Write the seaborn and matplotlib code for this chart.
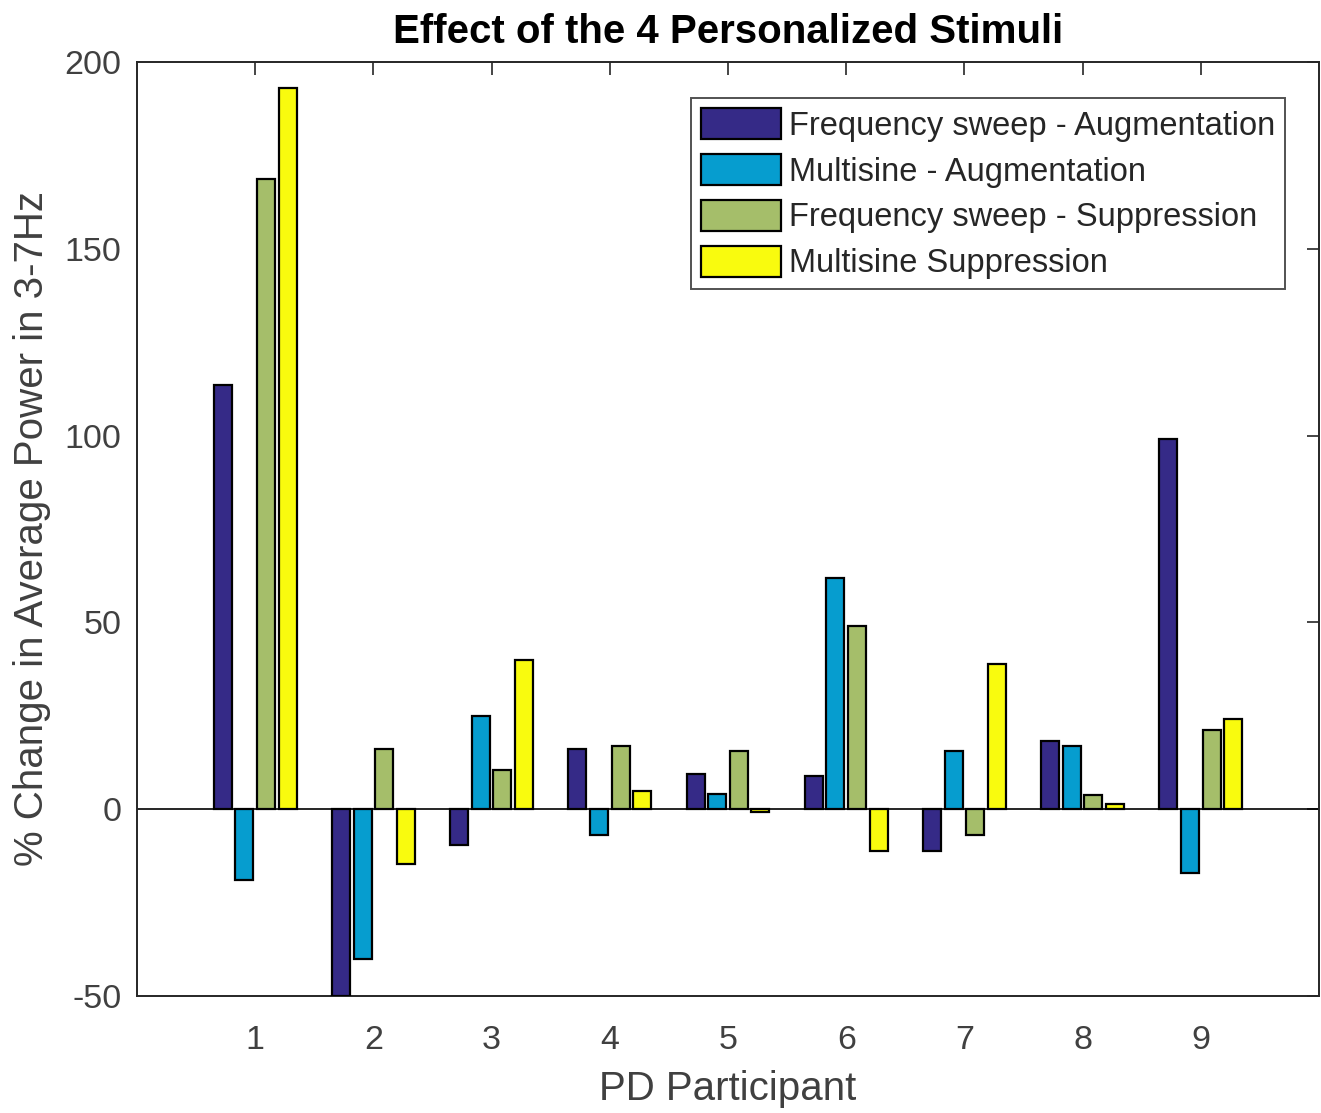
import numpy as np
import pandas as pd
import matplotlib
matplotlib.use("Agg")
import matplotlib.pyplot as plt
import seaborn as sns

participants = [1, 2, 3, 4, 5, 6, 7, 8, 9]
series_names = [
    "Frequency sweep - Augmentation",
    "Multisine - Augmentation",
    "Frequency sweep - Suppression",
    "Multisine Suppression",
]
freq_sweep_aug = [113.5, -50.0, -9.5, 16.0, 9.5, 8.8, -11.2, 18.2, 99.0]
multisine_aug = [-19.0, -40.0, 25.0, -6.8, 4.2, 62.0, 15.5, 16.8, -17.0]
freq_sweep_sup = [168.8, 16.0, 10.5, 17.0, 15.5, 49.0, -6.8, 3.8, 21.2]
multisine_sup = [193.0, -14.8, 40.0, 5.0, -0.8, -11.2, 38.8, 1.5, 24.2]
colors = ["#352A87", "#069DCF", "#A5BE6A", "#F9FB0E"]

series_values = [freq_sweep_aug, multisine_aug, freq_sweep_sup, multisine_sup]
df = pd.DataFrame({
    "participant": participants * 4,
    "value": sum(series_values, []),
    "stimulus": [name for name in series_names for _ in participants],
})

sns.set_theme(style="white")
plt.rcParams["font.family"] = ["Liberation Sans", "DejaVu Sans"]
plt.rcParams["axes.unicode_minus"] = False

W, H = 1321, 1113
fig = plt.figure(figsize=(W / 100, H / 100), dpi=100)
ax = fig.add_axes([137 / W, (H - 996) / H, 1182 / W, 934 / H])

sns.barplot(
    data=df, x="participant", y="value", hue="stimulus",
    hue_order=series_names, palette=colors, native_scale=True,
    saturation=1, width=0.73, gap=0.17, edgecolor="black", linewidth=1.6,
    errorbar=None, ax=ax, zorder=3,
)

ax.axhline(0, color="black", linewidth=1.2, zorder=2)
ax.set_xlim(0, 10)
ax.set_ylim(-50, 200)
ax.set_xticks(participants)
ax.set_yticks([-50, 0, 50, 100, 150, 200])

text_grey = "#404040"
ax.tick_params(axis="both", direction="in", length=9, width=1.2,
               colors="#262626", labelcolor=text_grey, labelsize=24.5,
               top=True, right=True)
ax.tick_params(axis="x", pad=21)
ax.tick_params(axis="y", pad=11)
for s in ax.spines.values():
    s.set_color("#262626")
    s.set_linewidth(1.4)

ax.set_xlabel("PD Participant", fontsize=29, color=text_grey, labelpad=10)
ax.set_ylabel("% Change in Average Power in 3-7Hz", fontsize=29,
              color=text_grey, labelpad=10)
ax.set_title("Effect of the 4 Personalized Stimuli", fontsize=29,
             fontweight="bold", color="black", pad=14)

leg = ax.legend(
    loc="upper right", bbox_to_anchor=(0.971, 0.961), fontsize=23.5,
    frameon=True, fancybox=False, edgecolor="#262626",
    handlelength=2.45, handleheight=1.07, handletextpad=0.25,
    labelspacing=0.38, borderpad=0.3, borderaxespad=0,
)
leg.get_frame().set_linewidth(1.4)
for t in leg.get_texts():
    t.set_color("#262626")

fig.savefig("out.png", dpi=100)
